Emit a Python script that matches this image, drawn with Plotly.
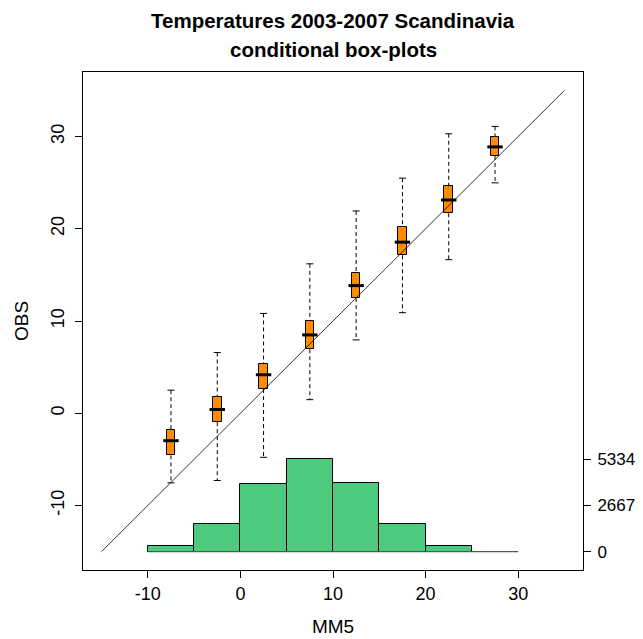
import plotly.graph_objects as go

# ---- data ----
title_lines = ["Temperatures 2003-2007 Scandinavia", "conditional box-plots"]
x_label = "MM5"
y_label = "OBS"

box_x = [-7.5, -2.5, 2.5, 7.5, 12.5, 17.5, 22.5, 27.5]
whisk_lo = [-7.55, -7.3, -4.78, 1.47, 7.95, 10.9, 16.65, 24.98]
q1 = [-4.57, -0.97, 2.62, 6.94, 12.48, 17.12, 21.68, 27.9]
median = [-2.98, 0.4, 4.17, 8.49, 13.84, 18.55, 23.12, 28.88]
q3 = [-1.87, 1.8, 5.32, 9.96, 15.17, 20.2, 24.6, 29.99]
whisk_hi = [2.5, 6.58, 10.82, 16.2, 21.93, 25.49, 30.3, 31.1]

hist_edges = [-10, -5, 0, 5, 10, 15, 20, 25, 30]
hist_counts = [346, 1581, 3889, 5334, 3964, 1581, 312, 0]
hist_ticks = [0, 2667, 5334]

diag = [-15, 35]
x_ticks = [-10, 0, 10, 20, 30]
y_ticks = [-10, 0, 10, 20, 30]
axis_range = [-17, 37]
hist_floor = -15     # y-value where count 0 sits
hist_span = 10       # y-units for max count

# ---- figure ----
fig = go.Figure()
FONT = "Liberation Sans, Arial, sans-serif"

# histogram on secondary axis
centers = [(a + b) / 2 for a, b in zip(hist_edges[:-1], hist_edges[1:])]
widths = [b - a for a, b in zip(hist_edges[:-1], hist_edges[1:])]
fig.add_trace(go.Scatter(x=[hist_edges[0], hist_edges[-1]], y=[0, 0], yaxis="y2",
                         mode="lines", line=dict(color="#555555", width=1.3),
                         hoverinfo="skip", showlegend=False))
fig.add_trace(go.Bar(x=centers, y=hist_counts, width=widths, yaxis="y2",
                     marker=dict(color="#4CCB7C", line=dict(color="black", width=1)),
                     showlegend=False))

# diagonal line
fig.add_trace(go.Scatter(x=diag, y=diag, mode="lines",
                         line=dict(color="black", width=0.8), showlegend=False))

# whiskers (dashed)
wx, wy = [], []
for x, lo, a, b, hi in zip(box_x, whisk_lo, q1, q3, whisk_hi):
    wx += [x, x, None, x, x, None]
    wy += [hi, b, None, a, lo, None]
fig.add_trace(go.Scatter(x=wx, y=wy, mode="lines",
                         line=dict(color="black", width=1, dash="4px,3px"),
                         showlegend=False))
# whisker caps
fig.add_trace(go.Scatter(x=box_x + box_x, y=whisk_lo + whisk_hi, mode="markers",
                         marker=dict(symbol="line-ew", size=5,
                                     line=dict(color="black", width=1)),
                         showlegend=False))
# boxes
fig.add_trace(go.Bar(x=box_x, y=[b - a for a, b in zip(q1, q3)], base=q1, width=0.92,
                     marker=dict(color="#FF8C00", line=dict(color="black", width=1)),
                     showlegend=False))
# medians
fig.add_trace(go.Scatter(x=box_x, y=median, mode="markers",
                         marker=dict(symbol="line-ew", size=11,
                                     line=dict(color="black", width=3)),
                         showlegend=False))

# y2 range mapping counts onto the y scale
cmax = max(hist_counts)
scale = cmax / hist_span
y2_range = [(axis_range[0] - hist_floor) * scale, (axis_range[1] - hist_floor) * scale]

TICKFONT = dict(family=FONT, size=18, color="black")
TITLEFONT = dict(family=FONT, size=19, color="black")
axis_common = dict(showgrid=False, zeroline=False, showline=True, linecolor="black",
                   linewidth=1, ticks="outside", ticklen=7, tickcolor="black")

fig.update_layout(
    width=635, height=631,
    margin=dict(l=75, r=60, t=64, b=69, autoexpand=False),
    paper_bgcolor="white", plot_bgcolor="white",
    barmode="overlay", bargap=0,
    xaxis=dict(range=axis_range, tickvals=x_ticks, ticktext=[str(v) for v in x_ticks],
               mirror=True, tickfont=TICKFONT,
               title=dict(text=x_label, font=TITLEFONT, standoff=17),
               **axis_common),
    yaxis=dict(range=axis_range, tickvals=y_ticks, ticktext=[str(v) for v in y_ticks],
               mirror=True, tickangle=-90,
               ticklabelstandoff=4, tickfont=TICKFONT,
               title=dict(text=y_label, font=TITLEFONT, standoff=14),
               **axis_common),
    yaxis2=dict(range=y2_range, overlaying="y", side="right", tickvals=hist_ticks,
                ticktext=[str(v) for v in hist_ticks],
                ticklabelstandoff=3, tickfont=dict(family=FONT, size=17, color="black"),
                **axis_common),
    annotations=[
        dict(text=title_lines[0], xref="paper", yref="paper", x=0.5, y=1,
             xanchor="center", yanchor="middle", yshift=52, showarrow=False,
             font=dict(family=FONT, size=20.5, color="black", weight="bold")),
        dict(text=title_lines[1], xref="paper", yref="paper", x=0.5, y=1,
             xanchor="center", yanchor="middle", yshift=23, showarrow=False,
             font=dict(family=FONT, size=20.5, color="black", weight="bold")),
    ],
)

fig.write_html("out.html")
